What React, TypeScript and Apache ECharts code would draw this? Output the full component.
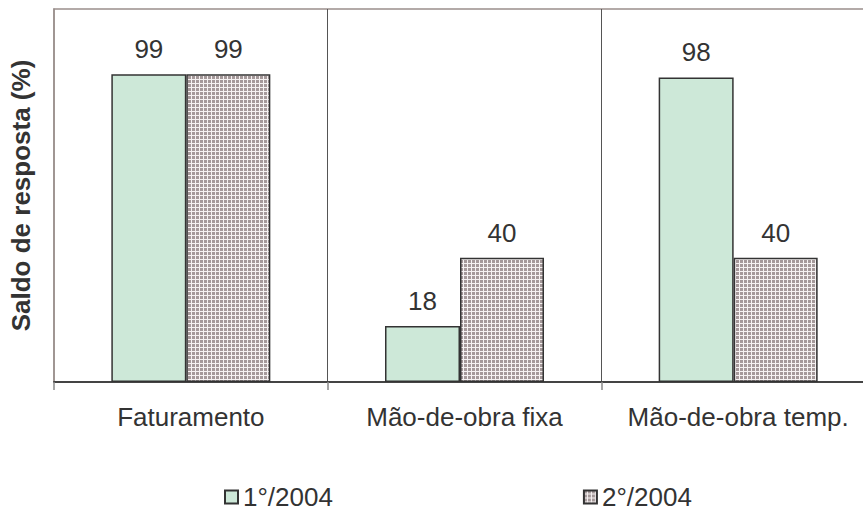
import React, { useEffect, useRef } from "react";
import * as echarts from "echarts";

const categories = ["Faturamento", "Mão-de-obra fixa", "Mão-de-obra temp."];
const seriesNames = ["1°/2004", "2°/2004"];
const firstHalf = [99, 18, 98];
const secondHalf = [99, 40, 40];

const FONT = "'Liberation Sans', Arial, sans-serif";
const TEXT = "#333333";

// small tile: mauve square with a white grid line along its right and bottom edges
function makeGridTile(): string {
  const c = document.createElement("canvas");
  c.width = 4;
  c.height = 4;
  const ctx = c.getContext("2d")!;
  ctx.fillStyle = "#a5999a";
  ctx.fillRect(0, 0, 4, 4);
  ctx.fillStyle = "#f6f2f2";
  ctx.fillRect(3, 0, 1, 4);
  ctx.fillRect(0, 3, 4, 1);
  return c.toDataURL();
}

export default function App() {
  const ref = useRef<HTMLDivElement>(null);

  useEffect(() => {
    if (!ref.current) return;
    const chart = echarts.init(ref.current, undefined, { renderer: "svg" });
    const tile = makeGridTile();
    const gridPattern: any = {
      image: tile,
      imageWidth: 4,
      imageHeight: 4,
      repeat: "repeat",
    };

    const label = {
      show: true,
      position: "top" as const,
      distance: 12,
      fontSize: 26,
      fontFamily: FONT,
      color: TEXT,
    };

    chart.setOption({
      animation: false,
      backgroundColor: "#ffffff",
      textStyle: { fontFamily: FONT },
      // the plot frame runs a little past the right edge of the window
      grid: {
        left: 50,
        top: 9,
        right: 0,
        bottom: 131,
        show: true,
        borderColor: "#9a8f8c",
        borderWidth: 1.5,
        backgroundColor: "transparent",
      },
      legend: {
        data: seriesNames,
        left: 219,
        top: 479,
        itemGap: 250,
        itemWidth: 13,
        itemHeight: 13,
        icon: "rect",
        textStyle: { fontSize: 26, lineHeight: 26, color: TEXT, fontFamily: FONT },
      },
      xAxis: {
        type: "category",
        data: categories,
        axisLine: { show: true, lineStyle: { color: "#444444", width: 2 } },
        axisTick: { show: true, length: 8, lineStyle: { color: "#8a8a8a", width: 1.5 } },
        axisLabel: { interval: 0, fontSize: 26, color: TEXT, fontFamily: FONT, margin: 22 },
        splitLine: {
          show: true,
          interval: (idx: number) => idx !== 0,
          lineStyle: { color: "#555555", width: 1 },
        },
      },
      yAxis: {
        type: "value",
        min: 0,
        max: 120,
        name: "Saldo de resposta (%)",
        nameLocation: "middle",
        nameGap: 20,
        nameTextStyle: { fontSize: 26, fontWeight: "bold", color: TEXT, fontFamily: FONT },
        axisLine: { show: true, lineStyle: { color: "#9a8f8c", width: 1.5 } },
        axisTick: { show: false },
        axisLabel: { show: false },
        splitLine: { show: false },
      },
      series: [
        {
          name: seriesNames[0],
          type: "bar",
          data: firstHalf,
          barWidth: 75,
          barGap: "0%",
          itemStyle: { color: "#cde8d8", borderColor: "#333333", borderWidth: 1.5 },
          label,
        },
        {
          name: seriesNames[1],
          type: "bar",
          data: secondHalf,
          barWidth: 84,
          barGap: "0%",
          itemStyle: { color: gridPattern, borderColor: "#333333", borderWidth: 1.5 },
          label,
        },
      ],
    });

    return () => chart.dispose();
  }, []);

  return (
    <div
      ref={ref}
      style={{ position: "fixed", left: 0, top: 0, width: 875, height: 513, background: "#fff" }}
    />
  );
}
